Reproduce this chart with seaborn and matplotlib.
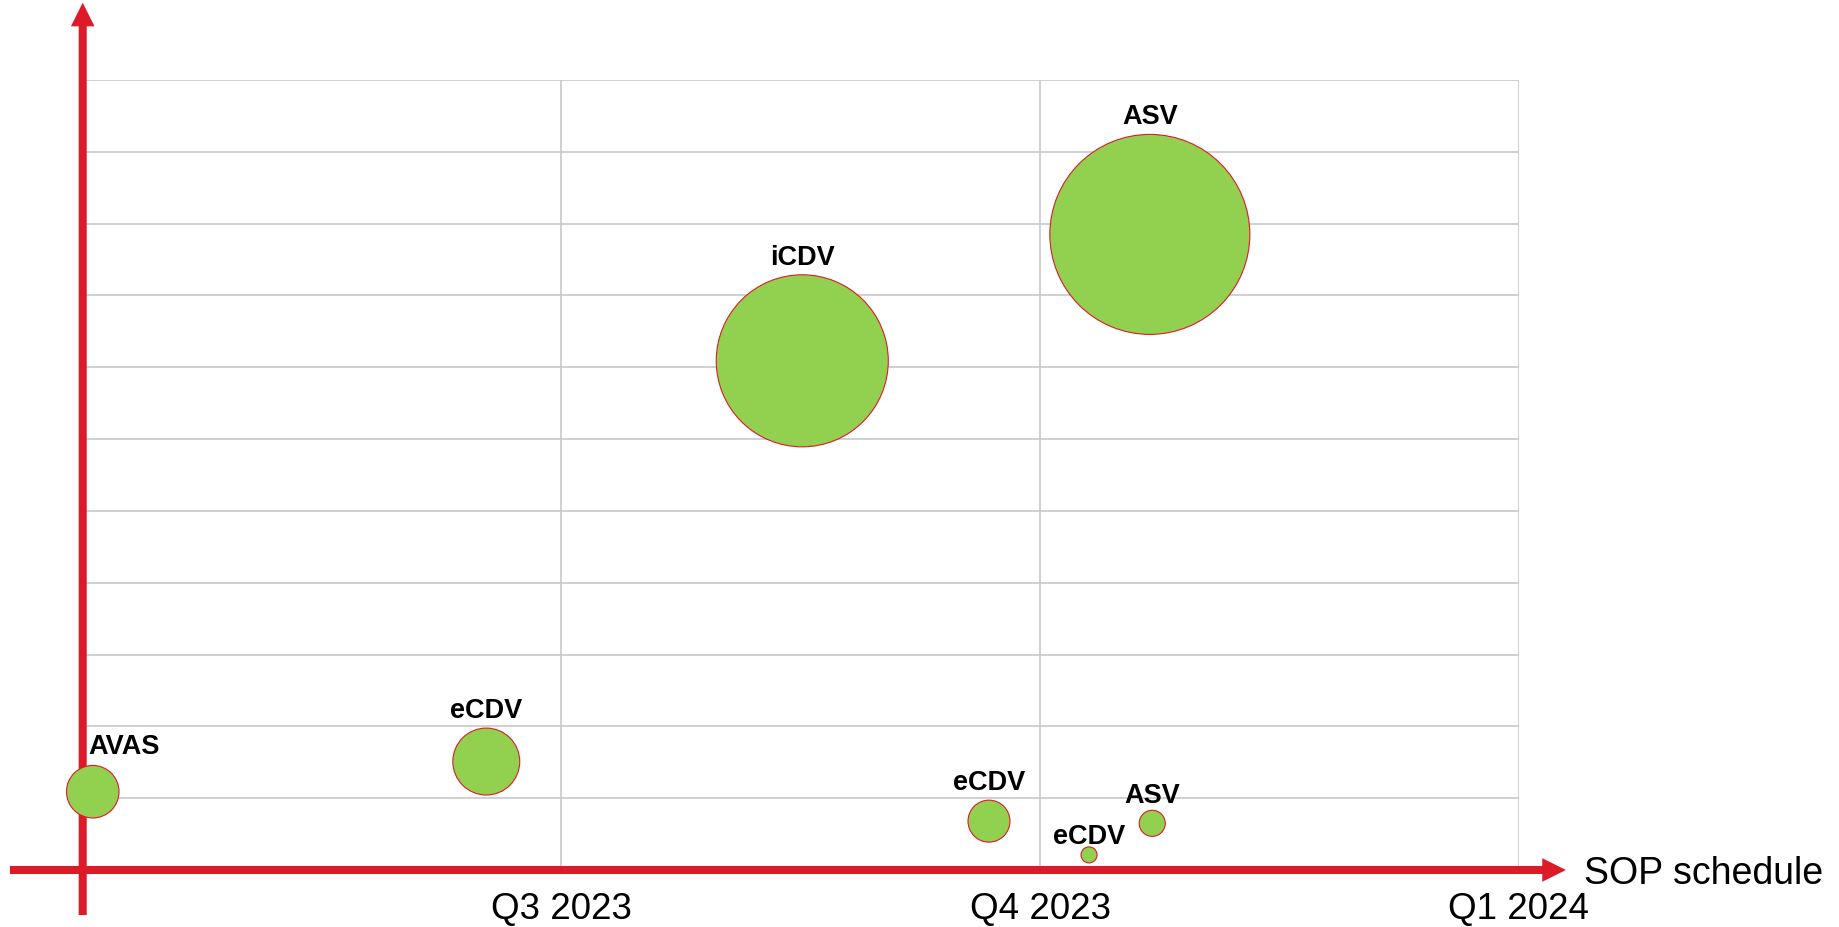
import matplotlib
matplotlib.use("Agg")
import matplotlib.pyplot as plt
import seaborn as sns
import pandas as pd
import numpy as np
from matplotlib.patches import FancyArrowPatch

# bubble data (x in quarters from the y-axis, y in grid units, size ~ bubble area)
labels = ["AVAS", "eCDV", "iCDV", "ASV", "eCDV", "eCDV", "ASV"]
x_vals = [0.021, 0.843, 1.503, 2.229, 1.893, 2.102, 2.234]
y_vals = [1.09, 1.51, 7.09, 8.85, 0.68, 0.21, 0.65]
sizes = [6.9, 11.2, 74.0, 100.0, 4.4, 0.64, 1.7]

quarter_ticks = [1, 2, 3]
quarter_labels = ["Q3 2023", "Q4 2023", "Q1 2024"]

df = pd.DataFrame({"label": labels, "x": x_vals, "y": y_vals, "size": sizes})

RED = "#DC1A28"
GREEN = "#92D050"

sns.set_theme(style="white")
plt.rcParams["font.family"] = ["Liberation Sans", "DejaVu Sans"]

fig = plt.figure(figsize=(18.39, 9.27), dpi=100)
ax = fig.add_axes([0.04497, 0.0615, 0.7810, 0.8522])
ax.set_xlim(0, 3)
ax.set_ylim(0, 11)

# grid
ax.set_xticks(quarter_ticks)
ax.set_xticklabels(quarter_labels, fontsize=26.5, color="black")
ax.set_yticks(range(1, 12))
ax.set_yticklabels([])
ax.tick_params(length=0, axis="x", pad=16)
ax.tick_params(length=0, axis="y")
ax.grid(True, color="#C8C8C8", lw=1.2)
ax.set_axisbelow(True)
for s in ax.spines.values():
    s.set_visible(False)

# axis arrows
arrow_style = "simple,head_length=17,head_width=17,tail_width=5.8"
for start, end in [((-0.152, 0), (3.098, 0)), ((0, -0.627), (0, 12.076))]:
    arr = FancyArrowPatch(start, end, arrowstyle=arrow_style, mutation_scale=1,
                          color=RED, lw=0, shrinkA=0, shrinkB=0,
                          clip_on=False, zorder=2)
    ax.add_patch(arr)

# bubbles
sns.scatterplot(data=df, x="x", y="y", size="size", sizes=(0, 20736),
                size_norm=(0, 100), color=GREEN, edgecolor=RED, linewidth=0.8,
                alpha=1, legend=False, clip_on=False, zorder=3, ax=ax)
ax.set_xlabel("")
ax.set_ylabel("")

# bubble labels above each bubble
for lab, xv, yv, sv in zip(labels, x_vals, y_vals, sizes):
    r_px = 10 * np.sqrt(sv)
    gap = min(17, 4 + 0.8 * r_px)
    dy = (r_px + gap) * 0.72
    if lab == "AVAS":
        ax.annotate(lab, (xv, yv), xytext=(-3, dy + 1), textcoords="offset points",
                    ha="left", va="center", fontsize=19.5, fontweight="bold",
                    color="black", zorder=4)
    else:
        ax.annotate(lab, (xv, yv), xytext=(0, dy), textcoords="offset points",
                    ha="center", va="center", fontsize=19.5, fontweight="bold",
                    color="black", zorder=4)

ax.text(3.136, -0.05, "SOP schedule", fontsize=27, ha="left", va="center",
        color="black", clip_on=False)

fig.savefig("out.png", dpi=100)
